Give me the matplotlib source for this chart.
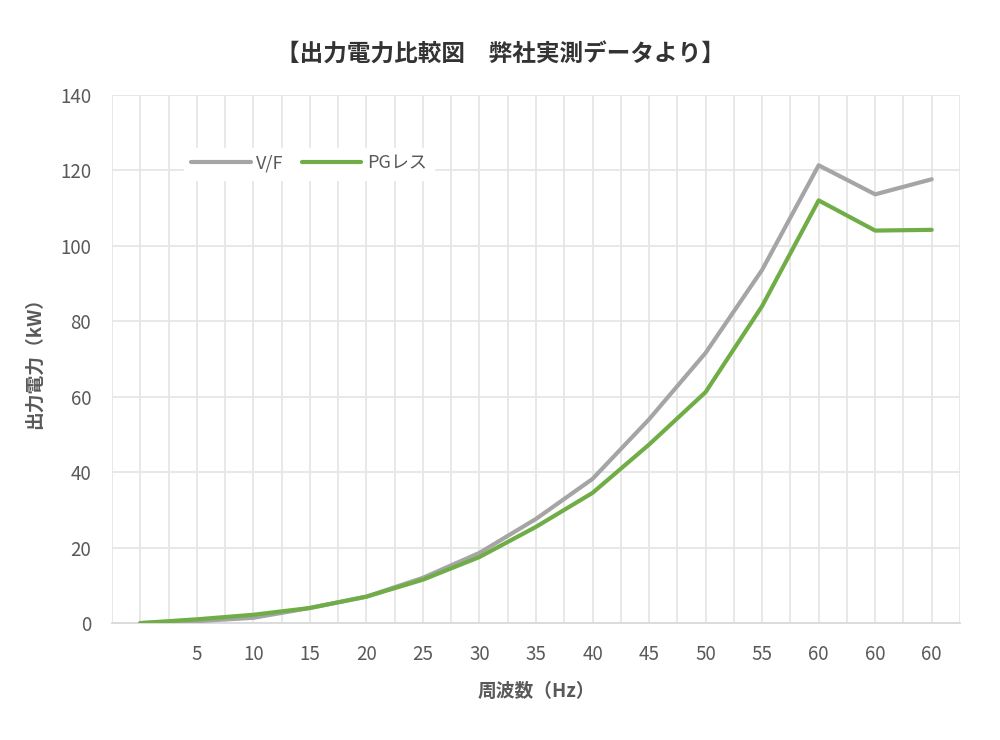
import matplotlib
matplotlib.use("Agg")
import matplotlib.pyplot as plt
import numpy as np

plt.rcParams['font.family'] = ['Noto Sans CJK JP', 'DejaVu Sans']

# 周波数カテゴリ（先頭はラベルなし）
freq_labels = ["", "5", "10", "15", "20", "25", "30", "35", "40", "45", "50", "55", "60", "60", "60"]
vf_kw = [0, 0.5, 1.4, 4.0, 7.0, 12.0, 18.6, 27.6, 38.2, 54.0, 71.6, 93.6, 121.3, 113.6, 117.6]
pg_kw = [0, 1.0, 2.2, 4.0, 7.0, 11.5, 17.5, 25.5, 34.5, 47.3, 61.2, 84.0, 112.0, 104.0, 104.2]

text_col = "#595959"
grid_col = "#E6E6E6"

fig = plt.figure(figsize=(10, 7.4), dpi=100)
ax = fig.add_axes([0.112, 0.158, 0.848, 0.714])

x = np.arange(len(freq_labels))
ax.plot(x, vf_kw, color="#A5A5A5", lw=3, label="V/F", solid_capstyle="round", zorder=3)
ax.plot(x, pg_kw, color="#70AD47", lw=3, label="PGレス", solid_capstyle="round", zorder=4)

ax.set_xlim(-0.5, len(freq_labels) - 0.5)
ax.set_ylim(0, 140)
ax.set_yticks(np.arange(0, 141, 20))
ax.set_xticks(x)
ax.set_xticklabels(freq_labels)
ax.set_xticks(np.arange(-0.5, len(freq_labels), 1.0), minor=True)

ax.grid(True, which="both", color=grid_col, lw=1.3, zorder=0)
ax.set_axisbelow(True)
for s in ["top", "right", "left"]:
    ax.spines[s].set_visible(False)
ax.spines["bottom"].set_color("#D9D9D9")
ax.spines["bottom"].set_linewidth(1.3)

ax.tick_params(which="both", length=0)
ax.tick_params(axis="x", pad=15, labelsize=13.5, labelcolor=text_col)
ax.tick_params(axis="y", pad=15, labelsize=13.5, labelcolor=text_col)

ax.set_xlabel("周波数（Hz）", fontsize=13.5, fontweight="bold", color=text_col, labelpad=12)
ax.set_ylabel("出力電力（kW）", fontsize=13.5, fontweight="bold", color=text_col, labelpad=12)

fig.suptitle("【出力電力比較図　弊社実測データより】", fontsize=17, fontweight="bold",
             color="#333333", y=0.942)

leg = ax.legend(loc="upper left", bbox_to_anchor=(0.085, 0.9), ncol=2, frameon=True,
                fontsize=13, handlelength=3.3, handletextpad=0.3, columnspacing=1.0,
                borderaxespad=0, labelcolor=text_col, fancybox=False)
leg.get_frame().set_facecolor("white")
leg.get_frame().set_edgecolor("white")
leg.get_frame().set_alpha(1)

fig.savefig("out.png", dpi=100, facecolor="white")
